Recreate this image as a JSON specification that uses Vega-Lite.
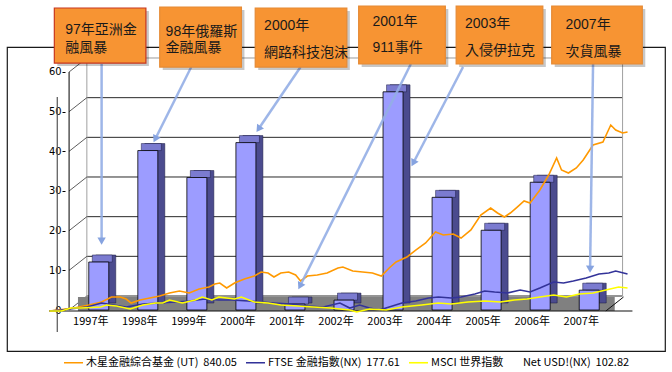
{
  "$schema": "https://vega.github.io/schema/vega-lite/v6.json",
  "width": 658,
  "height": 304,
  "autosize": {"type": "none"},
  "padding": {"left": 7, "top": 47, "right": 7, "bottom": 21},
  "background": "white",
  "config": {"view": {"stroke": "#1a1a1a", "strokeWidth": 1.2}},
  "datasets": {
    "bars": [
      {"year": 1997, "t": 1997.5, "value": 12.1, "label": "1997年"},
      {"year": 1998, "t": 1998.5, "value": 40.2, "label": "1998年"},
      {"year": 1999, "t": 1999.5, "value": 33.4, "label": "1999年"},
      {"year": 2000, "t": 2000.5, "value": 42.2, "label": "2000年"},
      {"year": 2001, "t": 2001.5, "value": 1.5, "label": "2001年"},
      {"year": 2002, "t": 2002.5, "value": 2.5, "label": "2002年"},
      {"year": 2003, "t": 2003.5, "value": 55.0, "label": "2003年"},
      {"year": 2004, "t": 2004.5, "value": 28.4, "label": "2004年"},
      {"year": 2005, "t": 2005.5, "value": 20.1, "label": "2005年"},
      {"year": 2006, "t": 2006.5, "value": 32.2, "label": "2006年"},
      {"year": 2007, "t": 2007.5, "value": 5.0, "label": "2007年"}
    ],
    "grid": [{"v": 0}, {"v": 10}, {"v": 20}, {"v": 30}, {"v": 40}, {"v": 50}, {"v": 60}],
    "lines": [
      {"s": "木星金融綜合基金", "t": 1996.657, "v": -0.25},
      {"s": "木星金融綜合基金", "t": 1997.159, "v": 0.5},
      {"s": "木星金融綜合基金", "t": 1997.46, "v": 1.26},
      {"s": "木星金融綜合基金", "t": 1997.721, "v": 2.02},
      {"s": "木星金融綜合基金", "t": 1997.922, "v": 3.28},
      {"s": "木星金融綜合基金", "t": 1998.102, "v": 3.28},
      {"s": "木星金融綜合基金", "t": 1998.223, "v": 2.77},
      {"s": "木星金融綜合基金", "t": 1998.323, "v": 1.76},
      {"s": "木星金融綜合基金", "t": 1998.504, "v": 2.52},
      {"s": "木星金融綜合基金", "t": 1998.705, "v": 3.02},
      {"s": "木星金融綜合基金", "t": 1998.906, "v": 3.53},
      {"s": "木星金融綜合基金", "t": 1999.106, "v": 4.29},
      {"s": "木星金融綜合基金", "t": 1999.307, "v": 4.79},
      {"s": "木星金融綜合基金", "t": 1999.508, "v": 4.29},
      {"s": "木星金融綜合基金", "t": 1999.709, "v": 5.29},
      {"s": "木星金融綜合基金", "t": 1999.91, "v": 5.8},
      {"s": "木星金融綜合基金", "t": 2000.03, "v": 6.55},
      {"s": "木星金融綜合基金", "t": 2000.131, "v": 6.81},
      {"s": "木星金融綜合基金", "t": 2000.271, "v": 5.55},
      {"s": "木星金融綜合基金", "t": 2000.432, "v": 6.81},
      {"s": "木星金融綜合基金", "t": 2000.633, "v": 7.81},
      {"s": "木星金融綜合基金", "t": 2000.833, "v": 8.57},
      {"s": "木星金融綜合基金", "t": 2000.974, "v": 9.58},
      {"s": "木星金融綜合基金", "t": 2001.114, "v": 9.33},
      {"s": "木星金融綜合基金", "t": 2001.235, "v": 8.32},
      {"s": "木星金融綜合基金", "t": 2001.375, "v": 9.33},
      {"s": "木星金融綜合基金", "t": 2001.536, "v": 9.58},
      {"s": "木星金融綜合基金", "t": 2001.677, "v": 8.82},
      {"s": "木星金融綜合基金", "t": 2001.777, "v": 7.31},
      {"s": "木星金融綜合基金", "t": 2001.918, "v": 8.57},
      {"s": "木星金融綜合基金", "t": 2002.118, "v": 8.82},
      {"s": "木星金融綜合基金", "t": 2002.319, "v": 9.33},
      {"s": "木星金融綜合基金", "t": 2002.54, "v": 10.59},
      {"s": "木星金融綜合基金", "t": 2002.641, "v": 10.84},
      {"s": "木星金融綜合基金", "t": 2002.841, "v": 9.83},
      {"s": "木星金融綜合基金", "t": 2003.042, "v": 9.58},
      {"s": "木星金融綜合基金", "t": 2003.243, "v": 9.33},
      {"s": "木星金融綜合基金", "t": 2003.424, "v": 8.57},
      {"s": "木星金融綜合基金", "t": 2003.584, "v": 10.59},
      {"s": "木星金融綜合基金", "t": 2003.725, "v": 12.1},
      {"s": "木星金融綜合基金", "t": 2003.946, "v": 13.36},
      {"s": "木星金融綜合基金", "t": 2004.126, "v": 15.12},
      {"s": "木星金融綜合基金", "t": 2004.327, "v": 16.89},
      {"s": "木星金融綜合基金", "t": 2004.528, "v": 19.66},
      {"s": "木星金融綜合基金", "t": 2004.689, "v": 18.91},
      {"s": "木星金融綜合基金", "t": 2004.89, "v": 19.16},
      {"s": "木星金融綜合基金", "t": 2005.05, "v": 18.15},
      {"s": "木星金融綜合基金", "t": 2005.251, "v": 20.17},
      {"s": "木星金融綜合基金", "t": 2005.452, "v": 23.95},
      {"s": "木星金融綜合基金", "t": 2005.653, "v": 25.71},
      {"s": "木星金融綜合基金", "t": 2005.793, "v": 24.45},
      {"s": "木星金融綜合基金", "t": 2005.934, "v": 23.44},
      {"s": "木星金融綜合基金", "t": 2006.054, "v": 24.45},
      {"s": "木星金融綜合基金", "t": 2006.195, "v": 25.96},
      {"s": "木星金融綜合基金", "t": 2006.335, "v": 27.48},
      {"s": "木星金融綜合基金", "t": 2006.456, "v": 26.97},
      {"s": "木星金融綜合基金", "t": 2006.657, "v": 30.25},
      {"s": "木星金融綜合基金", "t": 2006.837, "v": 34.03},
      {"s": "木星金融綜合基金", "t": 2006.998, "v": 38.32},
      {"s": "木星金融綜合基金", "t": 2007.098, "v": 35.29},
      {"s": "木星金融綜合基金", "t": 2007.239, "v": 34.53},
      {"s": "木星金融綜合基金", "t": 2007.4, "v": 35.8},
      {"s": "木星金融綜合基金", "t": 2007.54, "v": 37.81},
      {"s": "木星金融綜合基金", "t": 2007.741, "v": 41.59},
      {"s": "木星金融綜合基金", "t": 2007.942, "v": 42.35},
      {"s": "木星金融綜合基金", "t": 2008.102, "v": 46.63},
      {"s": "木星金融綜合基金", "t": 2008.203, "v": 45.37},
      {"s": "木星金融綜合基金", "t": 2008.343, "v": 44.62},
      {"s": "木星金融綜合基金", "t": 2008.444, "v": 44.87},
      {"s": "FTSE 金融指數", "t": 1996.657, "v": -0.25},
      {"s": "FTSE 金融指數", "t": 1996.898, "v": 0},
      {"s": "FTSE 金融指數", "t": 1997.42, "v": 0.76},
      {"s": "FTSE 金融指數", "t": 1997.721, "v": 1.76},
      {"s": "FTSE 金融指數", "t": 1997.962, "v": 1.26},
      {"s": "FTSE 金融指數", "t": 1998.223, "v": 0.76},
      {"s": "FTSE 金融指數", "t": 1998.564, "v": 1.51},
      {"s": "FTSE 金融指數", "t": 1998.906, "v": 1.76},
      {"s": "FTSE 金融指數", "t": 1999.227, "v": 2.02},
      {"s": "FTSE 金融指數", "t": 1999.508, "v": 2.27},
      {"s": "FTSE 金融指數", "t": 1999.829, "v": 2.77},
      {"s": "FTSE 金融指數", "t": 2000.11, "v": 2.52},
      {"s": "FTSE 金融指數", "t": 2000.371, "v": 2.52},
      {"s": "FTSE 金融指數", "t": 2000.713, "v": 2.27},
      {"s": "FTSE 金融指數", "t": 2000.974, "v": 2.02},
      {"s": "FTSE 金融指數", "t": 2001.235, "v": 1.76},
      {"s": "FTSE 金融指數", "t": 2001.576, "v": 1.51},
      {"s": "FTSE 金融指數", "t": 2001.918, "v": 1.01},
      {"s": "FTSE 金融指數", "t": 2002.239, "v": 0.76},
      {"s": "FTSE 金融指數", "t": 2002.58, "v": 1.76},
      {"s": "FTSE 金融指數", "t": 2002.781, "v": 0.5},
      {"s": "FTSE 金融指數", "t": 2002.982, "v": 1.26},
      {"s": "FTSE 金融指數", "t": 2003.183, "v": 0.5},
      {"s": "FTSE 金融指數", "t": 2003.384, "v": 0},
      {"s": "FTSE 金融指數", "t": 2003.584, "v": 0.76},
      {"s": "FTSE 金融指數", "t": 2003.845, "v": 1.76},
      {"s": "FTSE 金融指數", "t": 2004.126, "v": 2.27},
      {"s": "FTSE 金融指數", "t": 2004.388, "v": 3.02},
      {"s": "FTSE 金融指數", "t": 2004.588, "v": 3.28},
      {"s": "FTSE 金融指數", "t": 2004.849, "v": 3.02},
      {"s": "FTSE 金融指數", "t": 2005.05, "v": 3.28},
      {"s": "FTSE 金融指數", "t": 2005.331, "v": 4.03},
      {"s": "FTSE 金融指數", "t": 2005.532, "v": 4.79},
      {"s": "FTSE 金融指數", "t": 2005.733, "v": 4.54},
      {"s": "FTSE 金融指數", "t": 2005.994, "v": 4.29},
      {"s": "FTSE 金融指數", "t": 2006.255, "v": 5.04},
      {"s": "FTSE 金融指數", "t": 2006.456, "v": 4.54},
      {"s": "FTSE 金融指數", "t": 2006.657, "v": 5.55},
      {"s": "FTSE 金融指數", "t": 2006.938, "v": 7.06},
      {"s": "FTSE 金融指數", "t": 2007.139, "v": 6.81},
      {"s": "FTSE 金融指數", "t": 2007.339, "v": 7.31},
      {"s": "FTSE 金融指數", "t": 2007.6, "v": 8.07},
      {"s": "FTSE 金融指數", "t": 2007.861, "v": 9.07},
      {"s": "FTSE 金融指數", "t": 2008.062, "v": 9.33},
      {"s": "FTSE 金融指數", "t": 2008.203, "v": 9.83},
      {"s": "FTSE 金融指數", "t": 2008.444, "v": 9.07},
      {"s": "MSCI 世界指數", "t": 1996.657, "v": -0.25},
      {"s": "MSCI 世界指數", "t": 1996.898, "v": -0.25},
      {"s": "MSCI 世界指數", "t": 1997.098, "v": 0.5},
      {"s": "MSCI 世界指數", "t": 1997.299, "v": 0.5},
      {"s": "MSCI 世界指數", "t": 1997.701, "v": 0.76},
      {"s": "MSCI 世界指數", "t": 1997.821, "v": 1.26},
      {"s": "MSCI 世界指數", "t": 1998.022, "v": 1.01},
      {"s": "MSCI 世界指數", "t": 1998.303, "v": 0.25},
      {"s": "MSCI 世界指數", "t": 1998.564, "v": 1.26},
      {"s": "MSCI 世界指數", "t": 1998.825, "v": 1.76},
      {"s": "MSCI 世界指數", "t": 1998.966, "v": 1.76},
      {"s": "MSCI 世界指數", "t": 1999.106, "v": 2.52},
      {"s": "MSCI 世界指數", "t": 1999.367, "v": 1.76},
      {"s": "MSCI 世界指數", "t": 1999.629, "v": 2.52},
      {"s": "MSCI 世界指數", "t": 1999.769, "v": 3.28},
      {"s": "MSCI 世界指數", "t": 1999.97, "v": 2.52},
      {"s": "MSCI 世界指數", "t": 2000.11, "v": 3.28},
      {"s": "MSCI 世界指數", "t": 2000.432, "v": 2.77},
      {"s": "MSCI 世界指數", "t": 2000.572, "v": 3.28},
      {"s": "MSCI 世界指數", "t": 2000.833, "v": 2.02},
      {"s": "MSCI 世界指數", "t": 2001.114, "v": 1.76},
      {"s": "MSCI 世界指數", "t": 2001.375, "v": 1.26},
      {"s": "MSCI 世界指數", "t": 2001.717, "v": 1.01},
      {"s": "MSCI 世界指數", "t": 2002.038, "v": 0.76},
      {"s": "MSCI 世界指數", "t": 2002.38, "v": 0.5},
      {"s": "MSCI 世界指數", "t": 2002.781, "v": 0},
      {"s": "MSCI 世界指數", "t": 2002.922, "v": -0.5},
      {"s": "MSCI 世界指數", "t": 2003.183, "v": 0.25},
      {"s": "MSCI 世界指數", "t": 2003.524, "v": 0},
      {"s": "MSCI 世界指數", "t": 2003.845, "v": 0.76},
      {"s": "MSCI 世界指數", "t": 2004.247, "v": 1.26},
      {"s": "MSCI 世界指數", "t": 2004.588, "v": 1.76},
      {"s": "MSCI 世界指數", "t": 2004.849, "v": 1.51},
      {"s": "MSCI 世界指數", "t": 2005.191, "v": 2.02},
      {"s": "MSCI 世界指數", "t": 2005.532, "v": 2.27},
      {"s": "MSCI 世界指數", "t": 2005.853, "v": 2.02},
      {"s": "MSCI 世界指數", "t": 2006.135, "v": 2.52},
      {"s": "MSCI 世界指數", "t": 2006.396, "v": 2.77},
      {"s": "MSCI 世界指數", "t": 2006.657, "v": 3.28},
      {"s": "MSCI 世界指數", "t": 2006.938, "v": 3.78},
      {"s": "MSCI 世界指數", "t": 2007.199, "v": 3.28},
      {"s": "MSCI 世界指數", "t": 2007.46, "v": 4.03},
      {"s": "MSCI 世界指數", "t": 2007.741, "v": 4.29},
      {"s": "MSCI 世界指數", "t": 2008.002, "v": 5.04},
      {"s": "MSCI 世界指數", "t": 2008.263, "v": 5.8},
      {"s": "MSCI 世界指數", "t": 2008.444, "v": 5.55}
    ],
    "arrows": [
      {"t0": 1997.721, "v0": 62.01, "t1": 1997.721, "v1": 17.65, "ang": 180},
      {"t0": 1999.548, "v0": 61.25, "t1": 1998.825, "v1": 43.36, "ang": 207},
      {"t0": 2001.777, "v0": 61.25, "t1": 2000.934, "v1": 45.88, "ang": 214.5},
      {"t0": 2004.026, "v0": 62.01, "t1": 2001.777, "v1": 6.3, "ang": 207},
      {"t0": 2005.09, "v0": 61.25, "t1": 2004.086, "v1": 37.31, "ang": 208},
      {"t0": 2007.741, "v0": 62.01, "t1": 2007.681, "v1": 10.59, "ang": 181}
    ],
    "boxes": [
      {"id": 1, "t0": 1996.757, "t1": 1998.624, "vtop": 76.13, "vbot": 62.26},
      {"id": 2, "t0": 1998.906, "t1": 2000.572, "vtop": 76.38, "vbot": 61.25},
      {"id": 3, "t0": 2000.853, "t1": 2002.721, "vtop": 76.13, "vbot": 61.25},
      {"id": 4, "t0": 2002.962, "t1": 2004.729, "vtop": 76.63, "vbot": 62.01},
      {"id": 5, "t0": 2004.95, "t1": 2006.717, "vtop": 76.63, "vbot": 62.01},
      {"id": 6, "t0": 2006.898, "t1": 2008.745, "vtop": 76.63, "vbot": 62.01}
    ],
    "boxtext": [
      {"t": 1996.978, "v": 70.58, "text": "97年亞洲金"},
      {"t": 1996.978, "v": 66.05, "text": "融風暴"},
      {"t": 1999.026, "v": 70.08, "text": "98年俄羅斯"},
      {"t": 1999.026, "v": 66.05, "text": "金融風暴"},
      {"t": 2001.034, "v": 71.59, "text": "2000年"},
      {"t": 2001.034, "v": 64.78, "text": "網路科技泡沫"},
      {"t": 2003.243, "v": 72.6, "text": "2001年"},
      {"t": 2003.243, "v": 66.05, "text": "911事件"},
      {"t": 2005.131, "v": 72.1, "text": "2003年"},
      {"t": 2005.131, "v": 65.29, "text": "入侵伊拉克"},
      {"t": 2007.179, "v": 71.84, "text": "2007年"},
      {"t": 2007.179, "v": 65.04, "text": "次貨風暴"}
    ]
  },
  "layer": [
    {
      "data": {"name": "grid"},
      "mark": {"type": "rule", "yOffset": -14, "strokeWidth": 1},
      "encoding": {
        "x": {"datum": 1997.42, "type": "quantitative", "scale": {"domain": [1995.894, 2009.106], "nice": false, "zero": false}, "axis": null},
        "x2": {"datum": 2008.343},
        "y": {"field": "v", "type": "quantitative", "scale": {"domain": [-10.335, 66.3], "nice": false, "zero": false},
              "axis": {"values": [0, 10, 20, 30, 40, 50, 60], "domain": false, "grid": false, "offset": -58, "tickSize": 3, "tickColor": "#000", "labelFont": "Liberation Sans Narrow, DejaVu Sans Condensed, sans-serif", "labelFontSize": 11, "labelColor": "#000", "labelPadding": 1, "title": null}},
        "color": {"condition": {"test": "datum.v == 60", "value": "#9a9a9a"}, "value": "#2a2a2a"}
      }
    },
    {
      "data": {"values": [{}]},
      "mark": {"type": "rule", "yOffset": -14, "y2Offset": -14, "color": "#a0a0a0"},
      "encoding": {
        "x": {"datum": 1997.42, "type": "quantitative"},
        "y": {"datum": 0, "type": "quantitative"},
        "y2": {"datum": 60}
      }
    },
    {
      "data": {"values": [{}]},
      "mark": {"type": "rule", "yOffset": -14, "y2Offset": -14, "color": "#a0a0a0"},
      "encoding": {
        "x": {"datum": 2008.343, "type": "quantitative"},
        "y": {"datum": 0, "type": "quantitative"},
        "y2": {"datum": 60}
      }
    },
    {
      "data": {"name": "grid"},
      "mark": {"type": "rule", "y2Offset": -14, "color": "#333", "strokeWidth": 0.8},
      "encoding": {
        "x": {"datum": 1997.058, "type": "quantitative"},
        "x2": {"datum": 1997.42},
        "y": {"field": "v", "type": "quantitative"},
        "y2": {"field": "v"}
      }
    },
    {
      "data": {"values": [{}]},
      "mark": {"type": "rule", "color": "#000"},
      "encoding": {
        "x": {"datum": 1997.058, "type": "quantitative"},
        "y": {"datum": 0, "type": "quantitative"},
        "y2": {"datum": 60}
      }
    },
    {
      "data": {"values": [{}]},
      "mark": {"type": "rule", "color": "#555", "strokeWidth": 1.2},
      "encoding": {
        "x": {"datum": 1996.817, "type": "quantitative"},
        "y": {"datum": -5.55, "type": "quantitative"},
        "y2": {"datum": 53.69}
      }
    },
    {
      "data": {"values": [{}]},
      "mark": {"type": "rect", "color": "#808080"},
      "encoding": {
        "x": {"datum": 1997.239, "type": "quantitative"},
        "x2": {"datum": 2008.183},
        "y": {"datum": -0.25, "type": "quantitative"},
        "y2": {"datum": 3.28}
      }
    },
    {
      "data": {"values": [{}]},
      "mark": {"type": "rule", "color": "#111", "strokeWidth": 1},
      "encoding": {
        "x": {"datum": 2008.002, "type": "quantitative"},
        "x2": {"datum": 2008.363},
        "y": {"datum": -0.25, "type": "quantitative"},
        "y2": {"datum": 3.28}
      }
    },
    {
      "data": {"values": [{}]},
      "mark": {"type": "rule", "color": "#111", "strokeWidth": 1.2},
      "encoding": {
        "x": {"datum": 1996.657, "type": "quantitative"},
        "x2": {"datum": 2008.544},
        "y": {"datum": -0.25, "type": "quantitative"}
      }
    },
    {
      "data": {"name": "bars"},
      "mark": {"type": "bar", "size": 20, "xOffset": 15, "yOffset": -7, "y2Offset": -7, "color": "#4B4B8E", "stroke": "#1a1a40", "strokeWidth": 0.5},
      "encoding": {
        "x": {"field": "t", "type": "quantitative"},
        "y": {"field": "value", "type": "quantitative"},
        "y2": {"datum": 0}
      }
    },
    {
      "data": {"name": "bars"},
      "mark": {"type": "bar", "size": 20, "xOffset": 11.5, "yOffset": -7, "y2Offset": 0, "color": "#7B7BD0", "stroke": "#1a1a40", "strokeWidth": 0.5},
      "encoding": {
        "x": {"field": "t", "type": "quantitative"},
        "y": {"field": "value", "type": "quantitative"},
        "y2": {"field": "value"}
      }
    },
    {
      "data": {"name": "bars"},
      "mark": {"type": "bar", "size": 20, "xOffset": 8, "color": "#9C9CFF", "stroke": "#000", "strokeWidth": 0.8},
      "encoding": {
        "x": {"field": "t", "type": "quantitative"},
        "y": {"field": "value", "type": "quantitative"},
        "y2": {"datum": 0}
      }
    },
    {
      "data": {"name": "lines"},
      "mark": {"type": "line", "strokeWidth": 1.6},
      "encoding": {
        "x": {"field": "t", "type": "quantitative"},
        "y": {"field": "v", "type": "quantitative"},
        "color": {
          "field": "s", "type": "nominal",
          "scale": {"domain": ["木星金融綜合基金", "FTSE 金融指數", "MSCI 世界指數"], "range": ["#FF9900", "#333399", "#FFFF00"]},
          "legend": {
            "orient": "none", "legendX": 56, "legendY": 305, "direction": "horizontal", "title": null,
            "symbolType": "stroke", "symbolStrokeWidth": 2, "symbolSize": 360, "padding": 0,
            "labelFont": "Liberation Sans Narrow, Noto Sans CJK TC, sans-serif", "labelFontSize": 11, "labelColor": "#000",
            "labelLimit": 320, "columnPadding": 5, "labelOffset": 2,
            "labelExpr": "datum.label == '木星金融綜合基金' ? '木星金融綜合基金 (UT)\u00a0\u00a0840.05' : datum.label == 'FTSE 金融指數' ? 'FTSE 金融指數(NX)\u00a0\u00a0177.61' : 'MSCI 世界指數\u00a0\u00a0\u00a0\u00a0\u00a0\u00a0\u00a0\u00a0Net USD!(NX)\u00a0\u00a0102.82'"
          }
        },
        "strokeWidth": {"field": "s", "type": "nominal", "scale": {"domain": ["木星金融綜合基金", "FTSE 金融指數", "MSCI 世界指數"], "range": [1.5, 1.6, 2.2]}, "legend": null}
      }
    },
    {
      "data": {"name": "arrows"},
      "mark": {"type": "rule", "color": "#93AEE6", "strokeWidth": 2.5, "opacity": 0.9},
      "encoding": {
        "x": {"field": "t0", "type": "quantitative"},
        "x2": {"field": "t1"},
        "y": {"field": "v0", "type": "quantitative"},
        "y2": {"field": "v1"}
      }
    },
    {
      "data": {"name": "arrows"},
      "mark": {"type": "point", "shape": "triangle", "filled": true, "size": 70, "color": "#86A3E0", "opacity": 1},
      "encoding": {
        "x": {"field": "t1", "type": "quantitative"},
        "y": {"field": "v1", "type": "quantitative"},
        "angle": {"field": "ang", "type": "quantitative", "scale": null}
      }
    },
    {
      "data": {"name": "boxes"},
      "mark": {"type": "rect", "color": "#000", "opacity": 0.22, "xOffset": 3, "x2Offset": 3, "yOffset": 3, "y2Offset": 3},
      "encoding": {
        "x": {"field": "t0", "type": "quantitative"},
        "x2": {"field": "t1"},
        "y": {"field": "vtop", "type": "quantitative"},
        "y2": {"field": "vbot"}
      }
    },
    {
      "data": {"name": "boxes"},
      "mark": {"type": "rect", "fill": "#F79433", "strokeWidth": 1.2},
      "encoding": {
        "x": {"field": "t0", "type": "quantitative"},
        "x2": {"field": "t1"},
        "y": {"field": "vtop", "type": "quantitative"},
        "y2": {"field": "vbot"},
        "stroke": {"condition": {"test": "datum.id == 1", "value": "#C8371E"}, "value": "#E58A35"}
      }
    },
    {
      "data": {"name": "boxtext"},
      "mark": {"type": "text", "align": "left", "baseline": "middle", "font": "Liberation Sans, Noto Sans CJK TC, sans-serif", "fontSize": 14, "color": "#1a1a1a"},
      "encoding": {
        "x": {"field": "t", "type": "quantitative"},
        "y": {"field": "v", "type": "quantitative"},
        "text": {"field": "text"}
      }
    },
    {
      "data": {"name": "bars"},
      "mark": {"type": "text", "align": "center", "baseline": "middle", "font": "Liberation Sans Narrow, Noto Sans CJK TC, sans-serif", "fontSize": 11, "color": "#000"},
      "encoding": {
        "x": {"field": "t", "type": "quantitative"},
        "y": {"datum": -3.02, "type": "quantitative"},
        "text": {"field": "label"}
      }
    }
  ]
}
